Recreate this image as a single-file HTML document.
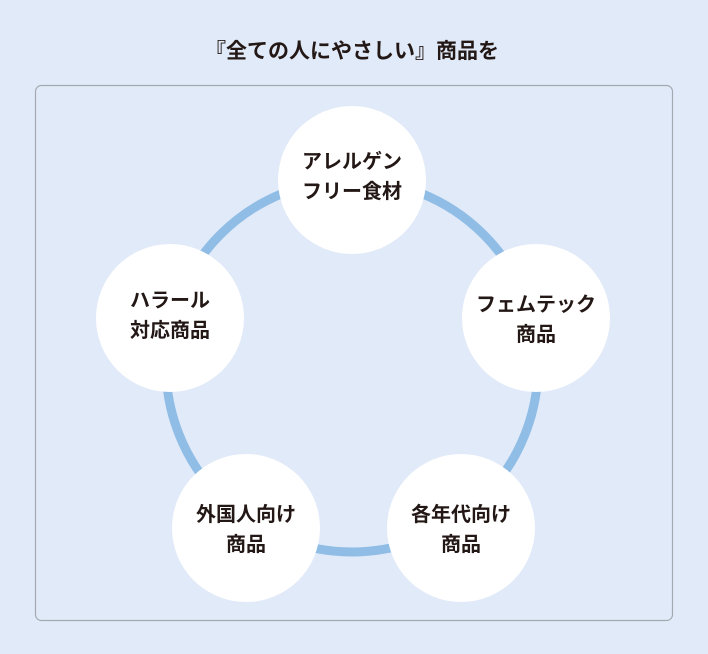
<!DOCTYPE html>
<html><head><meta charset="utf-8"><style>
html,body{margin:0;padding:0;background:#e1eaf8;}
svg{display:block}
text{font-family:"Liberation Sans","Noto Sans CJK JP",sans-serif;font-weight:bold;fill:#231815;}
</style></head><body>
<svg width="708" height="654" viewBox="0 0 708 654" xmlns="http://www.w3.org/2000/svg">
<rect x="0" y="0" width="708" height="654" fill="#e1eaf8"/>
<text x="352" y="58" font-size="21" text-anchor="middle">『全ての人にやさしい』商品を</text>
<rect x="35.5" y="85.5" width="637" height="535" rx="6" fill="none" stroke="#a3a9b1" stroke-width="1.2"/>
<circle cx="352" cy="366" r="186" fill="none" stroke="#8fbde6" stroke-width="9"/>
<g fill="#fff">
<circle cx="352" cy="180" r="74"/>
<circle cx="536" cy="318" r="74"/>
<circle cx="461" cy="528" r="74"/>
<circle cx="246" cy="528" r="74"/>
<circle cx="170" cy="318" r="74"/>
</g>
<g font-size="20" text-anchor="middle">
<text x="352" y="168">アレルゲン</text>
<text x="352" y="198">フリー食材</text>
<text x="536" y="311">フェムテック</text>
<text x="536" y="341">商品</text>
<text x="461" y="521">各年代向け</text>
<text x="461" y="551">商品</text>
<text x="246" y="521">外国人向け</text>
<text x="246" y="551">商品</text>
<text x="170" y="307">ハラール</text>
<text x="170" y="337">対応商品</text>
</g>
</svg>
</body></html>
